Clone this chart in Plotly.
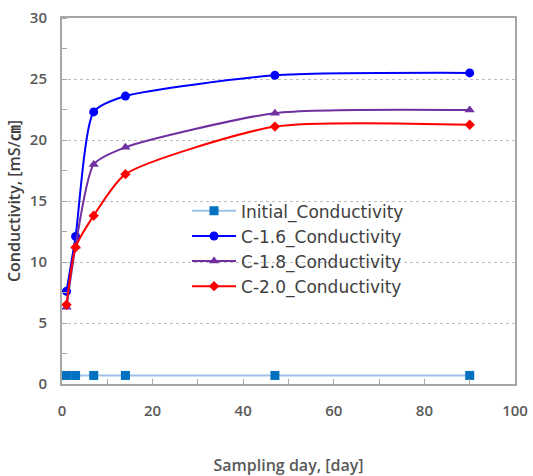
import plotly.graph_objects as go

days = [1, 3, 7, 14, 47, 90]
initial = [0.7, 0.7, 0.7, 0.7, 0.7, 0.7]
c16 = [7.6, 12.1, 22.3, 23.6, 25.3, 25.5]
c18 = [6.3, 11.3, 18.0, 19.4, 22.2, 22.45]
c20 = [6.5, 11.2, 13.8, 17.2, 21.1, 21.25]

names = ["Initial_Conductivity", "C-1.6_Conductivity", "C-1.8_Conductivity", "C-2.0_Conductivity"]

fig = go.Figure()
fig.add_trace(go.Scatter(x=days, y=initial, name=names[0], mode="lines+markers",
                         line=dict(color="#9DC3E6", width=2),
                         marker=dict(symbol="square", size=9, color="#0070C0")))
fig.add_trace(go.Scatter(x=days, y=c16, name=names[1], mode="lines+markers",
                         line=dict(color="#0000FF", width=2, shape="spline", smoothing=0.6),
                         marker=dict(symbol="circle", size=9, color="#0000FF")))
fig.add_trace(go.Scatter(x=days, y=c18, name=names[2], mode="lines+markers",
                         line=dict(color="#7030A0", width=2, shape="spline", smoothing=0.6),
                         marker=dict(symbol="triangle-up", size=9, color="#7030A0")))
fig.add_trace(go.Scatter(x=days, y=c20, name=names[3], mode="lines+markers",
                         line=dict(color="#FF0000", width=2, shape="spline", smoothing=0.6),
                         marker=dict(symbol="diamond", size=8, color="#FF0000")))

FAM = "Open Sans, DejaVu Sans, sans-serif"
tickfont = dict(family=FAM, size=15, color="#595959", weight=600)
fig.update_layout(
    width=533, height=476,
    margin=dict(l=62, r=18, t=18, b=92),
    paper_bgcolor="white", plot_bgcolor="white",
    showlegend=True,
    legend=dict(x=0.276, y=0.521, xanchor="left", yanchor="top",
                bgcolor="rgba(0,0,0,0)",
                font=dict(family="DejaVu Sans, sans-serif", size=17, color="#404040"),
                tracegroupgap=0, itemwidth=44),
    xaxis=dict(range=[0, 100], tickvals=[0, 20, 40, 60, 80, 100],
               automargin=False,
               showgrid=False, zeroline=False,
               showline=True, mirror=True, linecolor="#A6A6A6", linewidth=2,
               ticks="inside", ticklen=5, tickcolor="#A6A6A6",
               minor=dict(dtick=10, ticks="inside", ticklen=5, tickcolor="#A6A6A6"),
               tickfont=tickfont, ticklabelstandoff=12,
               title=dict(text="Sampling day, [day]", standoff=44,
                          font=dict(family=FAM, size=16, color="#595959", weight=600))),
    yaxis=dict(range=[0, 30], tickvals=[0, 5, 10, 15, 20, 25, 30],
               automargin=False,
               showgrid=True, gridcolor="#BFBFBF", griddash="dot", gridwidth=1,
               zeroline=False,
               showline=True, mirror=True, linecolor="#A6A6A6", linewidth=2,
               ticks="",
               minor=dict(dtick=2.5, ticks="inside", ticklen=5, tickcolor="#A6A6A6", showgrid=False),
               tickfont=tickfont, ticklabelstandoff=10,
               title=dict(text="Conductivity, [mS/㎝]", standoff=5,
                          font=dict(family="Open Sans, Noto Sans CJK KR, sans-serif", size=16,
                                    color="#404040", weight=600))),
)

fig.write_html("out.html", config={"displayModeBar": False},
               post_script="document.body.style.margin='0px';document.body.style.overflow='hidden';")
